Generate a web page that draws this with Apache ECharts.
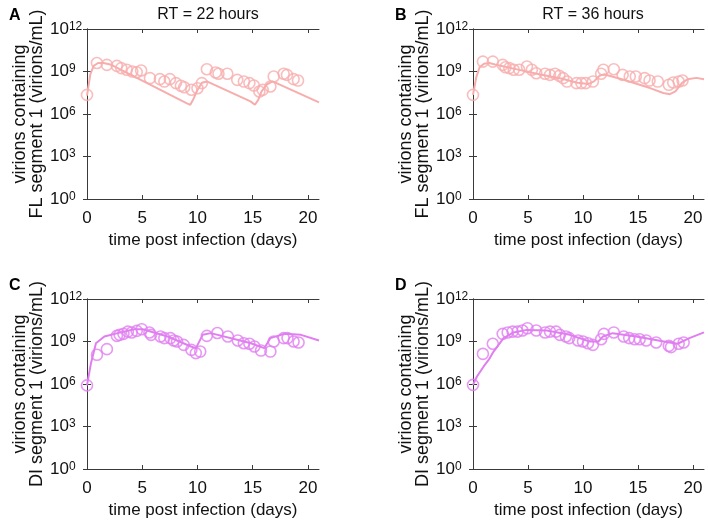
<!DOCTYPE html>
<html>
<head>
<meta charset="utf-8">
<script src="https://cdn.jsdelivr.net/npm/echarts@6/dist/echarts.min.js"></script>
<style>
  html, body { margin: 0; padding: 0; background: #fff; }
  #main { width: 708px; height: 520px; }
</style>
</head>
<body>
<div id="main"></div>
<script>
var daysA = [0, 0.9, 1.8, 2.7, 3.1, 3.6, 4.1, 4.5, 4.9, 5.7, 6.6, 7.0, 7.5, 8.05, 8.5, 8.8, 9.45, 10.0, 10.4, 10.85, 11.65, 11.9, 12.7, 13.6, 14.2, 14.7, 15.1, 15.6, 15.9, 16.6, 16.9, 17.8, 18.1, 18.7, 19.1];
var logA  = [7.35, 9.6, 9.47, 9.4, 9.24, 9.12, 9.0, 8.95, 9.07, 8.53, 8.46, 8.29, 8.46, 8.18, 7.99, 7.89, 7.71, 7.82, 8.18, 9.16, 8.93, 8.84, 8.84, 8.41, 8.29, 8.18, 8.01, 7.59, 7.7, 7.94, 8.65, 8.84, 8.76, 8.46, 8.36];

var daysB = [0, 0.9, 1.8, 2.7, 2.95, 3.3, 3.7, 4.2, 4.9, 5.35, 5.75, 6.55, 7.0, 7.45, 7.85, 8.2, 8.55, 9.4, 9.85, 10.25, 10.9, 11.65, 11.85, 12.8, 13.6, 14.25, 14.8, 15.6, 16.05, 16.8, 17.8, 18.2, 18.7, 19.05];
var logB  = [7.35, 9.7, 9.7, 9.47, 9.3, 9.24, 9.12, 9.12, 9.35, 9.12, 8.88, 8.84, 8.76, 8.84, 8.69, 8.53, 8.29, 8.18, 8.18, 8.18, 8.29, 8.84, 9.12, 9.16, 8.76, 8.65, 8.65, 8.53, 8.36, 8.29, 8.06, 8.22, 8.29, 8.36];

var daysC = [0, 0.9, 1.8, 2.7, 2.95, 3.3, 3.7, 4.05, 4.5, 4.95, 5.65, 5.8, 6.65, 7.0, 7.55, 7.85, 8.15, 8.75, 9.45, 9.85, 10.25, 10.85, 11.8, 12.75, 13.65, 14.2, 14.7, 15.15, 15.75, 16.6, 16.9, 17.8, 18.15, 18.7, 19.15];
var logC  = [5.9, 8.06, 8.46, 9.4, 9.47, 9.54, 9.7, 9.64, 9.75, 9.87, 9.64, 9.47, 9.35, 9.24, 9.24, 9.07, 9.0, 8.76, 8.41, 8.18, 8.29, 9.4, 9.6, 9.35, 9.07, 8.88, 8.84, 8.65, 8.36, 8.29, 9.0, 9.24, 9.24, 9.0, 8.93];

var daysD = [0, 0.9, 1.8, 2.7, 3.15, 3.6, 4.05, 4.5, 4.95, 5.75, 6.55, 7.0, 7.55, 7.9, 8.45, 8.75, 9.55, 10.0, 10.45, 10.9, 11.65, 11.9, 12.8, 13.7, 14.2, 14.7, 15.15, 15.75, 16.65, 17.8, 18.0, 18.7, 19.15];
var logD  = [5.94, 8.13, 8.84, 9.54, 9.64, 9.7, 9.7, 9.78, 9.94, 9.78, 9.64, 9.7, 9.7, 9.47, 9.35, 9.24, 9.07, 9.0, 8.88, 8.76, 9.16, 9.54, 9.64, 9.35, 9.24, 9.16, 9.16, 9.07, 8.93, 8.69, 8.6, 8.84, 8.93];

// model curves (log10)
var modelDaysA = [0, 0.3, 0.6, 1.0, 1.5, 2.2, 9.0, 9.35, 9.6, 10.0, 10.4, 10.85, 14.8, 15.2, 15.5, 15.8, 16.3, 16.8, 21];
var modelA     = [7.3, 8.8, 9.4, 9.6, 9.6, 9.47, 6.77, 6.65, 7.0, 7.7, 8.2, 8.3, 6.89, 6.65, 7.0, 7.6, 8.1, 8.3, 6.82];

var modelDaysB = [0, 0.3, 0.6, 1.0, 1.5, 2.0, 4.0, 6.0, 8.0, 9.5, 10.5, 11.0, 11.5, 11.9, 13.7, 16.1, 17.3, 17.9, 18.4, 19.0, 19.5, 20.3, 21];
var modelB     = [7.35, 8.6, 9.3, 9.55, 9.6, 9.5, 9.15, 8.8, 8.5, 8.2, 8.12, 8.3, 8.7, 8.8, 8.42, 7.83, 7.48, 7.4, 7.6, 8.2, 8.45, 8.55, 8.45];

var modelDaysC = [0, 0.36, 0.81, 1.57, 2.78, 4.28, 5.04, 7.3, 9.41, 9.86, 10.47, 11.2, 14.84, 16.05, 16.6, 17.86, 19.37, 21];
var modelC     = [5.9, 7.47, 8.88, 9.35, 9.59, 9.87, 9.87, 9.35, 8.65, 8.53, 9.47, 9.59, 8.88, 8.53, 9.24, 9.54, 9.47, 9.07];

var modelDaysD = [0, 0.36, 0.97, 1.42, 1.87, 2.78, 3.68, 4.89, 6.7, 8.8, 10.6, 11.4, 11.8, 12.7, 14.84, 17.86, 18.6, 19.67, 21];
var modelD     = [5.94, 6.53, 7.24, 7.7, 8.29, 9.24, 9.64, 9.82, 9.78, 9.47, 9.0, 9.0, 9.35, 9.59, 9.35, 8.93, 8.84, 9.24, 9.64];

var xTicks = [0, 5, 10, 15, 20];
var panelLetters = ['A', 'B', 'C', 'D'];
var panelTitles = ['RT = 22 hours', 'RT = 36 hours'];
var yNames = [
    'virions containing\nFL segment 1 (virions/mL)',
    'virions containing\nFL segment 1 (virions/mL)',
    'virions containing\nDI segment 1 (virions/mL)',
    'virions containing\nDI segment 1 (virions/mL)'
];

var pink = '#f8adad';
var violet = '#e07ef0';
var frame = '#3a3a3a';
var font = 'Liberation Sans, Arial, sans-serif';

function pairs(d, l) {
    var out = [];
    for (var i = 0; i < d.length; i++) {
        out.push([d[i], Math.pow(10, l[i])]);
    }
    return out;
}

var obs = [pairs(daysA, logA), pairs(daysB, logB), pairs(daysC, logC), pairs(daysD, logD)];
var fits = [pairs(modelDaysA, modelA), pairs(modelDaysB, modelB), pairs(modelDaysC, modelC), pairs(modelDaysD, modelD)];
var colors = [pink, pink, violet, violet];

var grids = [
    {left: 87, top: 29, width: 232, height: 170},
    {left: 473, top: 29, width: 231, height: 170},
    {left: 87, top: 299, width: 232, height: 170},
    {left: 473, top: 299, width: 231, height: 170}
];

var xAxes = [], yAxes = [], series = [], titles = [];

for (var g = 0; g < 4; g++) {
    // bottom + top
    xAxes.push({
        type: 'value', gridIndex: g, min: 0, max: 21, position: 'bottom',
        name: 'time post infection (days)', nameLocation: 'middle', nameGap: 33,
        nameTextStyle: {fontSize: 17, color: '#111', fontFamily: font},
        axisLine: {lineStyle: {color: frame, width: 1}},
        axisTick: {inside: true, length: 4, lineStyle: {color: frame}, customValues: xTicks},
        axisLabel: {fontSize: 17, color: '#111', margin: 11, fontFamily: font, customValues: xTicks},
        splitLine: {show: false}
    });
    xAxes.push({
        type: 'value', gridIndex: g, min: 0, max: 21, position: 'top',
        axisLine: {lineStyle: {color: frame, width: 1}},
        axisTick: {inside: true, length: 4, lineStyle: {color: frame}, customValues: xTicks},
        axisLabel: {show: false},
        splitLine: {show: false}
    });
    // left + right
    yAxes.push({
        type: 'log', logBase: 10, gridIndex: g, min: 1, max: 1e12, interval: 3, position: 'left',
        name: yNames[g], nameLocation: 'middle', nameGap: 36, nameRotate: 90,
        nameTextStyle: {fontSize: 18, lineHeight: 17, color: '#111', fontFamily: font},
        axisLine: {show: true, lineStyle: {color: frame, width: 1}},
        axisTick: {inside: true, length: 4, lineStyle: {color: frame}},
        axisLabel: {
            align: 'left', margin: 37,
            formatter: function (v) {
                var e = Math.round(Math.log(v) / Math.LN10);
                return '{b|10}{s|' + e + '}';
            },
            rich: {
                b: {fontSize: 17, lineHeight: 17, color: '#111', fontFamily: font, verticalAlign: 'bottom'},
                s: {fontSize: 12, lineHeight: 12, color: '#111', fontFamily: font, verticalAlign: 'top', padding: [0, 0, 12, 0]}
            }
        },
        splitLine: {show: false}
    });
    yAxes.push({
        type: 'log', logBase: 10, gridIndex: g, min: 1, max: 1e12, interval: 3, position: 'right',
        axisLine: {show: true, lineStyle: {color: frame, width: 1}},
        axisTick: {inside: true, length: 4, lineStyle: {color: frame}},
        axisLabel: {show: false},
        splitLine: {show: false}
    });

    series.push({
        type: 'line', xAxisIndex: g * 2, yAxisIndex: g * 2,
        data: fits[g], showSymbol: false, symbol: 'none',
        lineStyle: {color: colors[g], width: 2}, silent: true, z: 2
    });
    series.push({
        type: 'scatter', xAxisIndex: g * 2, yAxisIndex: g * 2,
        data: obs[g], symbol: 'circle', symbolSize: 11,
        itemStyle: {color: 'rgba(255,255,255,0)', borderColor: colors[g], borderWidth: 1.6},
        z: 3
    });

    titles.push({
        text: panelLetters[g],
        left: grids[g].left - 83, top: grids[g].top - 26,
        textStyle: {fontSize: 16, fontWeight: 'bold', color: '#000', fontFamily: font}
    });
}

titles.push({
    text: panelTitles[0], left: 203, top: 2, textAlign: 'center',
    textStyle: {fontSize: 16, fontWeight: 'normal', color: '#111', fontFamily: font}
});
titles.push({
    text: panelTitles[1], left: 588, top: 2, textAlign: 'center',
    textStyle: {fontSize: 16, fontWeight: 'normal', color: '#111', fontFamily: font}
});

var myChart = echarts.init(document.getElementById('main'), null, {renderer: 'canvas'});
var option = {
    backgroundColor: '#fff',
    animation: false,
    title: titles,
    grid: grids,
    xAxis: xAxes,
    yAxis: yAxes,
    series: series
};
myChart.setOption(option);
</script>
</body>
</html>
